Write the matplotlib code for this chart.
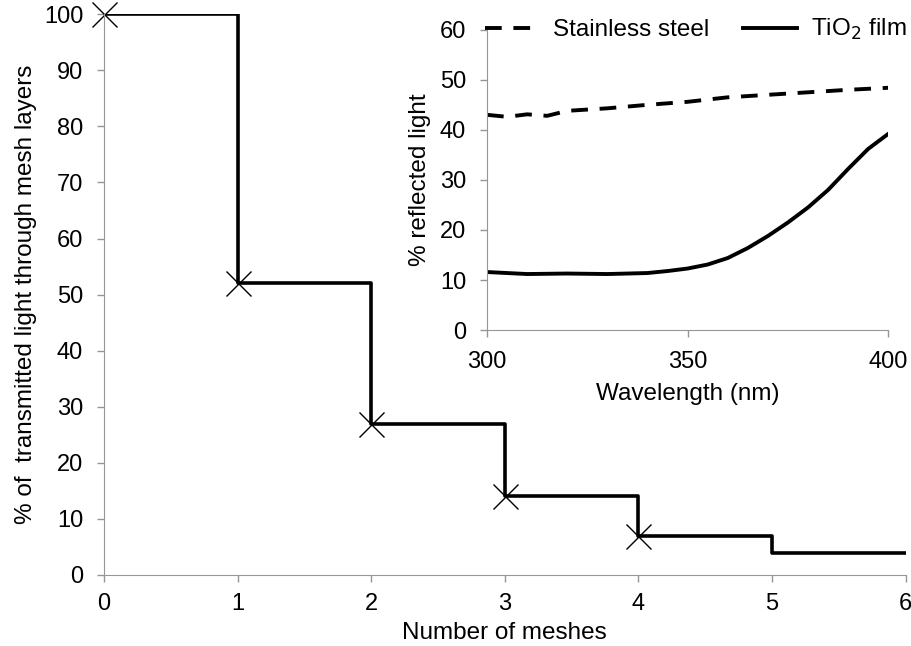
import matplotlib
matplotlib.use("Agg")
import matplotlib.pyplot as plt

plt.rcParams['font.family'] = ['Liberation Sans', 'DejaVu Sans']

# Main chart: transmitted light vs number of meshes
meshes = [0, 1, 2, 3, 4, 5, 6]
transmitted = [100, 52, 27, 14, 7, 4, 4]
marker_meshes = [0, 1, 2, 3, 4]
marker_values = [100, 52, 27, 14, 7]

# Inset: reflected light vs wavelength
wl_steel = [300, 305, 310, 315, 320, 330, 340, 350, 360, 370, 380, 390, 400]
refl_steel = [43.0, 42.6, 43.1, 42.8, 43.8, 44.3, 45.0, 45.6, 46.5, 47.0, 47.5, 48.0, 48.4]
wl_tio2 = [300, 310, 320, 330, 340, 345, 350, 355, 360, 365, 370, 375, 380, 385, 390, 395, 400]
refl_tio2 = [11.6, 11.2, 11.3, 11.2, 11.4, 11.8, 12.3, 13.1, 14.4, 16.4, 18.8, 21.5, 24.5, 28.0, 32.2, 36.2, 39.2]

grey = '#969696'
fs = 17
lfs = 17.5

fig = plt.figure(figsize=(9.12, 6.46), dpi=100)
ax = fig.add_axes([0.114, 0.110, 0.879, 0.868])
ax.plot(meshes, transmitted, drawstyle='steps-post', color='black', lw=2.6)
ax.plot(marker_meshes, marker_values, 'x', color='black', ms=18, mew=1.0, clip_on=False)
ax.set_xlim(0, 6)
ax.set_ylim(0, 100)
ax.set_xticks(range(0, 7))
ax.set_yticks(range(0, 101, 10))
ax.set_xlabel('Number of meshes', fontsize=lfs, labelpad=5)
ax.set_ylabel('% of  transmitted light through mesh layers', fontsize=lfs, labelpad=5)
for s in ['top', 'right']:
    ax.spines[s].set_visible(False)
for s in ['left', 'bottom']:
    ax.spines[s].set_color(grey)
ax.tick_params(colors=grey, labelcolor='black', labelsize=fs, length=5, width=1)
ax.tick_params(axis='y', pad=10)
ax.tick_params(axis='x', pad=8)

ins = fig.add_axes([0.534, 0.489, 0.440, 0.465])
ins.plot(wl_steel, refl_steel, color='black', lw=2.8, ls=(0, (4.3, 3.0)), label='Stainless steel')
ins.plot(wl_tio2, refl_tio2, color='black', lw=2.8, label='TiO$_2$ film')
ins.set_xlim(300, 400)
ins.set_ylim(0, 60)
ins.set_xticks([300, 350, 400])
ins.set_yticks(range(0, 61, 10))
ins.set_xlabel('Wavelength (nm)', fontsize=lfs, labelpad=7)
ins.set_ylabel('% reflected light', fontsize=lfs, labelpad=6)
for s in ['top', 'right']:
    ins.spines[s].set_visible(False)
for s in ['left', 'bottom']:
    ins.spines[s].set_color(grey)
ins.tick_params(colors=grey, labelcolor='black', labelsize=fs, length=5, width=1)
ins.tick_params(axis='y', pad=10)
ins.tick_params(axis='x', pad=10)
ins.legend(loc='center', bbox_to_anchor=(0.52, 1.0), ncol=2, frameon=False,
           fontsize=lfs, handlelength=2.2, columnspacing=1.4, handletextpad=0.6,
           borderpad=0, borderaxespad=0)

fig.savefig('out.png', dpi=100)
